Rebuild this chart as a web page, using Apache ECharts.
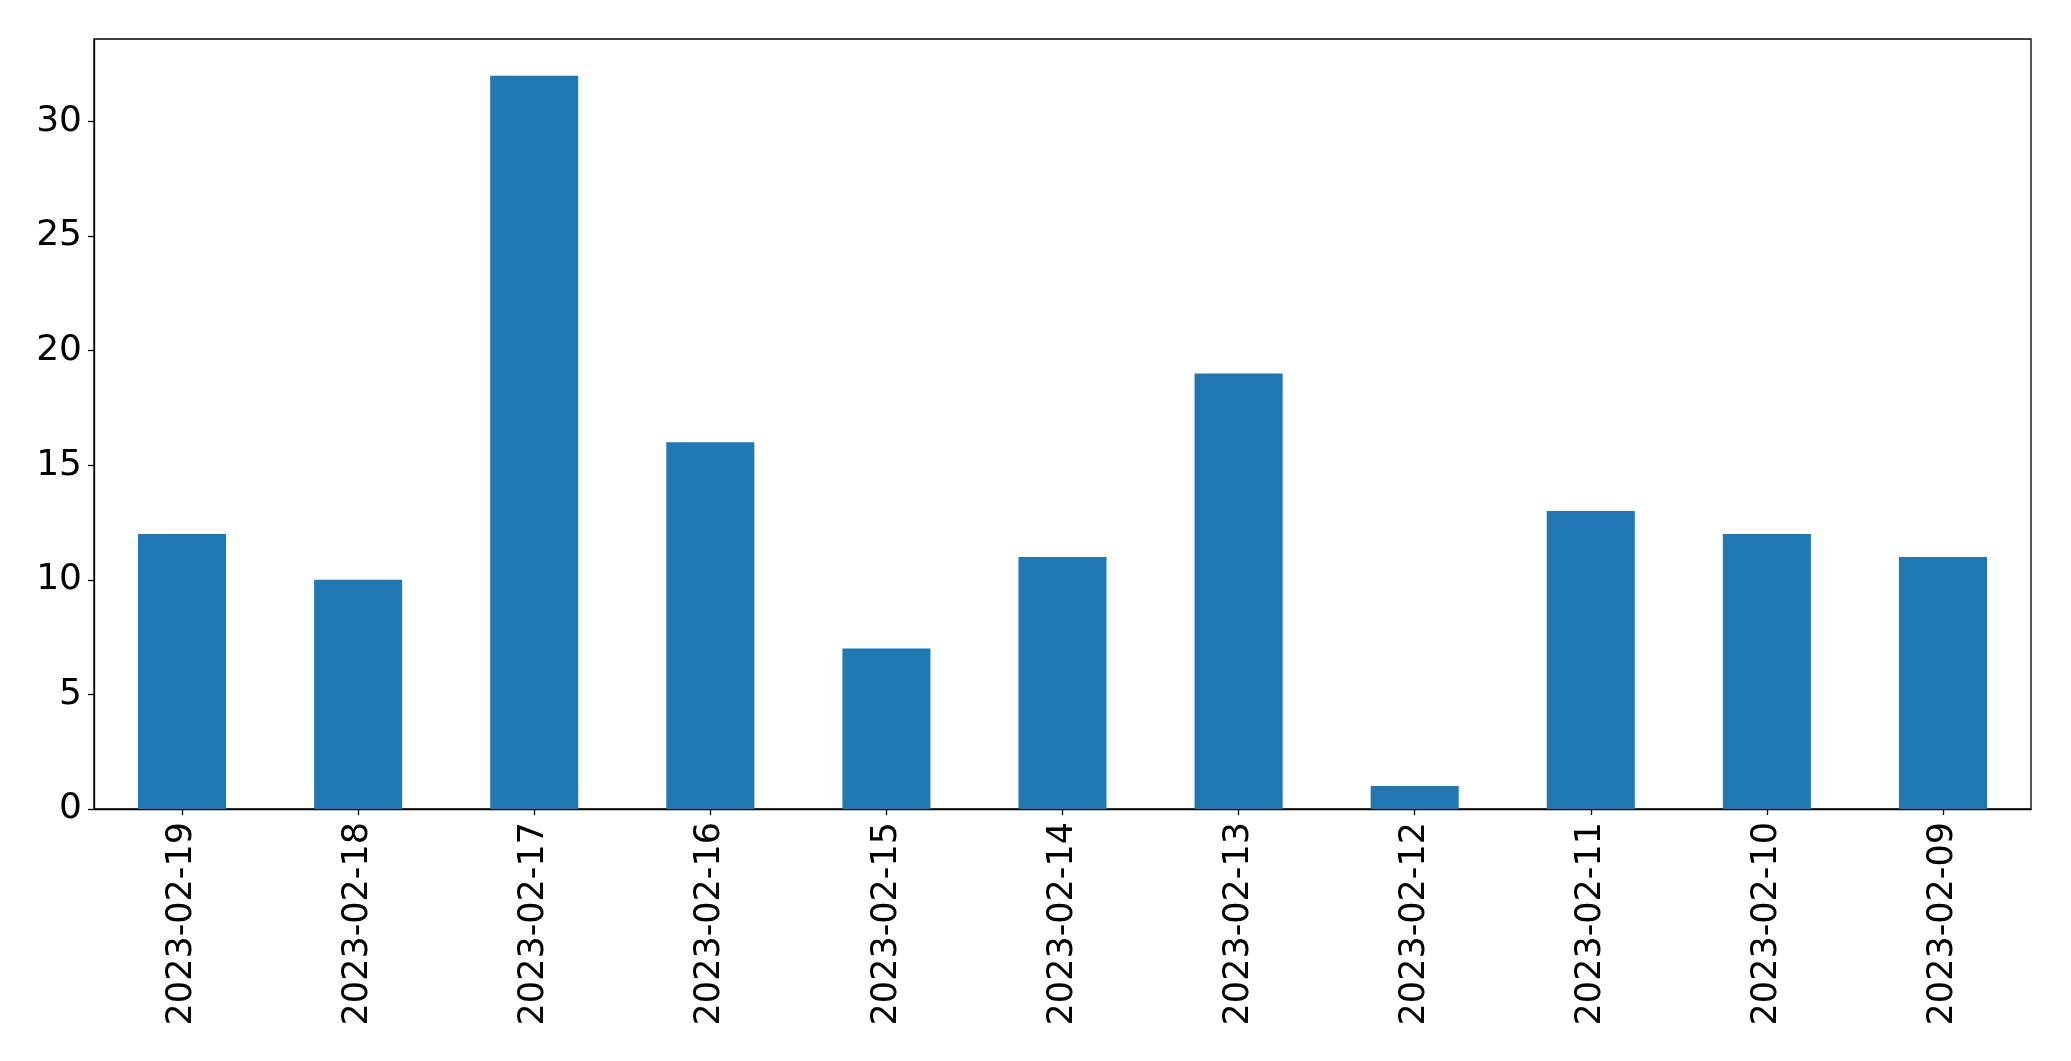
<!DOCTYPE html>
<html>
<head>
<meta charset="utf-8">
<script src="https://cdn.jsdelivr.net/npm/echarts@6/dist/echarts.min.js"></script>
<style>
html,body{margin:0;padding:0;background:#fff;}
#chart{width:2071px;height:1061px;}
</style>
</head>
<body>
<div id="chart"></div>
<script>
const categories = ['2023-02-19','2023-02-18','2023-02-17','2023-02-16','2023-02-15','2023-02-14','2023-02-13','2023-02-12','2023-02-11','2023-02-10','2023-02-09'];
const values = [12, 10, 32, 16, 7, 11, 19, 1, 13, 12, 11];
const yTicks = [0, 5, 10, 15, 20, 25, 30];

const chart = echarts.init(document.getElementById('chart'), null, {renderer: 'canvas'});
const font = 'DejaVu Sans';
chart.setOption({
  animation: false,
  backgroundColor: '#ffffff',
  grid: {
    left: 94, right: 40, top: 39, bottom: 252,
    show: true, borderColor: '#000', borderWidth: 1.3, backgroundColor: 'transparent'
  },
  xAxis: {
    type: 'category',
    data: categories,
    axisLine: {show: true, lineStyle: {color: '#000', width: 1.3}},
    axisTick: {show: true, alignWithLabel: true, length: 6, lineStyle: {color: '#000', width: 1.3}},
    axisLabel: {rotate: 90, margin: 13, fontSize: 35, fontFamily: font, color: '#000', interval: 0},
    splitLine: {show: false}
  },
  yAxis: {
    type: 'value',
    min: 0, max: 33.6, interval: 5,
    axisLine: {show: true, lineStyle: {color: '#000', width: 1.3}},
    axisTick: {show: true, length: 6, customValues: yTicks, lineStyle: {color: '#000', width: 1.3}},
    axisLabel: {
      margin: 12, fontSize: 36, fontFamily: font, color: '#000',
      padding: [6, 0, 0, 0],
      customValues: yTicks
    },
    splitLine: {show: false}
  },
  series: [{
    type: 'bar',
    data: values,
    barWidth: '50%',
    itemStyle: {color: '#1f77b4'}
  }]
});
</script>
</body>
</html>
